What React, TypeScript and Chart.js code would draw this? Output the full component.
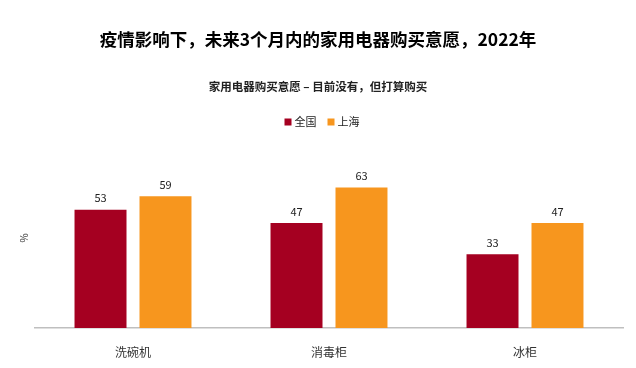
import React, { useEffect, useRef } from "react";
import { Chart, registerables } from "chart.js";

Chart.register(...registerables);

const categories = ["洗碗机", "消毒柜", "冰柜"];
const seriesNames = ["全国", "上海"];
const nationalValues = [53, 47, 33];
const shanghaiValues = [59, 63, 47];
const seriesColors = ["#A50021", "#F7961E"];
const titleText = "疫情影响下，未来3个月内的家用电器购买意愿，2022年";
const subtitleText = "家用电器购买意愿 – 目前没有，但打算购买";
const yAxisTitle = "%";

const FONT = "'Noto Sans CJK SC', 'Noto Sans', sans-serif";

const valueLabels = {
  id: "valueLabels",
  afterDatasetsDraw(chart: any) {
    const ctx = chart.ctx;
    ctx.save();
    ctx.font = `11px ${FONT}`;
    ctx.fillStyle = "#222";
    ctx.textAlign = "center";
    ctx.textBaseline = "bottom";
    chart.data.datasets.forEach((ds: any, i: number) => {
      const meta = chart.getDatasetMeta(i);
      meta.data.forEach((bar: any, j: number) => {
        ctx.fillText(String(ds.data[j]), bar.x, bar.y - 6);
      });
    });
    ctx.restore();
  },
};

const customLegend = {
  id: "customLegend",
  afterDraw(chart: any) {
    const ctx = chart.ctx;
    ctx.save();
    ctx.font = `11px ${FONT}`;
    ctx.textBaseline = "middle";
    ctx.textAlign = "left";
    const y = 122;
    const box = 7;
    const gapAfterBox = 3;
    const gapBetween = 11;
    const widths = chart.data.datasets.map((ds: any) => box + gapAfterBox + ctx.measureText(ds.label).width);
    const total = widths.reduce((a: number, b: number) => a + b, 0) + gapBetween * (widths.length - 1);
    let x = chart.width / 2 + 4 - total / 2;
    chart.data.datasets.forEach((ds: any, i: number) => {
      ctx.fillStyle = ds.backgroundColor;
      ctx.fillRect(x, y - box / 2, box, box);
      ctx.fillStyle = "#222";
      ctx.fillText(ds.label, x + box + gapAfterBox, y);
      x += widths[i] + gapBetween;
    });
    // y-axis unit label
    ctx.save();
    ctx.translate(24, 238);
    ctx.rotate(-Math.PI / 2);
    ctx.font = `10px ${FONT}`;
    ctx.fillStyle = "#333";
    ctx.textAlign = "center";
    ctx.fillText(yAxisTitle, 0, 0);
    ctx.restore();
    ctx.restore();
  },
};

export default function App() {
  const ref = useRef<HTMLCanvasElement | null>(null);
  useEffect(() => {
    document.body.style.margin = "0";
    const chart = new Chart(ref.current as HTMLCanvasElement, {
      type: "bar",
      data: {
        labels: categories,
        datasets: [
          { label: seriesNames[0], data: nationalValues, backgroundColor: seriesColors[0] },
          { label: seriesNames[1], data: shanghaiValues, backgroundColor: seriesColors[1] },
        ],
      },
      options: {
        responsive: false,
        animation: false,
        devicePixelRatio: 1,
        layout: { padding: 0 },
        datasets: {
          bar: { categoryPercentage: 0.663, barPercentage: 0.8 },
        },
        plugins: {
          legend: { display: false },
          tooltip: { enabled: false },
          title: {
            display: true,
            text: titleText,
            color: "#000",
            font: { family: FONT, size: 17.5, weight: "bold" },
            padding: { top: 29, bottom: 0 },
          },
          subtitle: {
            display: true,
            text: subtitleText,
            color: "#222",
            font: { family: FONT, size: 11.5, weight: "bold" },
            padding: { top: 30, bottom: 11 },
          },
        },
        scales: {
          x: {
            grid: { display: false, drawTicks: false },
            border: { display: true, color: "#BFBFBF", width: 1.5 },
            ticks: { color: "#333", font: { family: FONT, size: 12 }, padding: 17 },
            afterFit: (s: any) => {
              s.height = 40;
            },
          },
          y: {
            min: 0,
            max: 100,
            grid: { display: false, drawTicks: false },
            border: { display: false },
            ticks: { display: false },
            afterFit: (s: any) => {
              s.width = 35;
            },
          },
          yRight: {
            position: "right",
            min: 0,
            max: 100,
            grid: { display: false, drawTicks: false },
            border: { display: false },
            ticks: { display: false },
            afterFit: (s: any) => {
              s.width = 13;
            },
          },
        },
      },
      plugins: [valueLabels, customLegend],
    } as any);
    return () => chart.destroy();
  }, []);
  return (
    <div style={{ width: 636, height: 368, background: "#fff" }}>
      <canvas ref={ref} width={636} height={368} />
    </div>
  );
}
